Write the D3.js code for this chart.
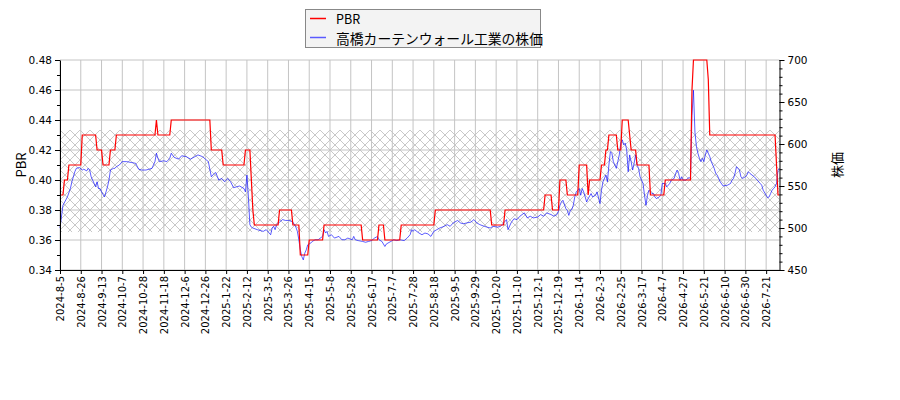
<!DOCTYPE html>
<html><head><meta charset="utf-8">
<script src="https://cdn.jsdelivr.net/npm/d3@7"></script>
<style>
body{margin:0;background:#fff;}
svg text{font-family:"DejaVu Sans",sans-serif;}
.jp{font-family:"Noto Sans CJK JP","DejaVu Sans",sans-serif;}
</style></head><body>
<svg id="c" width="900" height="400"></svg>
<script>
// ---- data ----
const tickLabels = ["2024-8-5","2024-8-26","2024-9-13","2024-10-7","2024-10-28","2024-11-18","2024-12-6","2024-12-26","2025-1-22","2025-2-12","2025-3-5","2025-3-26","2025-4-15","2025-5-8","2025-5-28","2025-6-17","2025-7-7","2025-7-28","2025-8-18","2025-9-5","2025-9-29","2025-10-20","2025-11-10","2025-12-1","2025-12-19","2026-1-14","2026-2-3","2026-2-25","2026-3-17","2026-4-7","2026-4-27","2026-5-21","2026-6-10","2026-6-30","2026-7-21"];
const tickEvery = 14; // trading days between labels
const nDays = 486;

// PBR: value holds from each start day until the next start day
const pbrRunStart = [0,3,6,15,25,29,34,38,65,66,75,102,110,125,129,130,131,148,157,162,168,178,204,215,219,230,253,291,300,327,332,337,342,350,356,357,365,368,370,376,379,384,385,389,398,408,426,427,437,438,483,484];
const pbrRunValue = [0.39,0.40,0.41,0.43,0.42,0.41,0.42,0.43,0.44,0.43,0.44,0.42,0.41,0.42,0.40,0.38,0.37,0.38,0.37,0.35,0.36,0.37,0.36,0.37,0.36,0.37,0.38,0.37,0.38,0.39,0.38,0.40,0.39,0.41,0.39,0.40,0.41,0.42,0.43,0.42,0.44,0.43,0.42,0.41,0.39,0.40,0.46,0.48,0.467,0.43,0.41,0.39];

// share price (trading-day index, yen)
const priceDay = [0,2,5,7,8,10,11,13,15,16,18,19,20,21,22,24,25,26,27,28,30,31,32,33,34,36,37,38,40,42,45,48,51,53,55,58,62,64,65,66,67,70,72,74,75,77,80,82,85,88,91,93,96,98,100,102,104,105,107,109,111,113,115,117,119,121,124,125,126,127,128,129,130,133,135,137,139,142,143,144,145,146,148,150,152,154,156,157,159,160,161,162,163,164,165,166,167,169,170,172,174,177,178,179,180,181,183,185,188,190,192,194,197,198,199,201,204,206,208,210,212,214,215,217,219,220,223,225,227,229,232,234,236,237,238,239,242,244,246,248,250,252,254,256,259,261,263,265,268,270,272,274,277,279,281,283,286,288,290,292,295,297,299,301,302,304,306,308,310,313,315,317,319,322,324,326,328,331,333,335,336,337,338,339,341,342,343,344,345,346,347,348,350,351,352,353,354,355,356,358,359,361,362,364,365,366,368,369,370,371,372,373,374,375,376,377,378,379,380,381,382,383,384,385,386,387,388,389,390,391,392,393,394,395,396,397,398,399,400,401,402,404,405,406,408,409,410,411,412,414,415,416,417,418,419,420,422,423,424,425,426,427,428,429,430,431,432,433,434,435,436,437,438,439,441,442,443,444,445,447,450,452,453,454,455,456,458,459,460,462,463,464,465,468,470,472,473,474,476,477,478,479,480,481,482,483,484,485];
const priceValue = [500,527,537,547,555,567,571,572,569,570,568,571,569,561,557,549,555,547,547,543,537,543,549,557,569,571,571,573,575,579,579,578,577,570,569,569,571,579,589,583,579,580,579,583,589,584,582,586,585,582,585,587,585,582,579,561,565,566,557,559,555,559,555,548,549,550,547,543,563,537,504,501,500,498,497,496,498,492,500,502,498,504,507,510,509,509,508,507,501,496,486,474,466,462,470,474,480,482,484,486,486,490,498,494,496,490,492,488,490,486,486,488,486,490,486,485,484,483,484,485,488,490,486,484,478,481,484,486,485,486,485,488,492,498,496,498,494,492,494,493,490,496,498,500,502,504,502,506,509,506,505,506,507,510,506,504,502,501,500,502,501,502,506,510,498,506,511,510,514,518,512,514,512,513,516,514,518,516,514,516,520,527,531,533,523,521,515,521,522,527,537,543,547,539,547,543,537,531,535,541,537,539,543,529,545,555,563,555,575,591,589,579,575,571,579,587,601,605,599,601,593,567,587,579,569,577,587,575,571,561,557,553,539,527,539,545,543,541,541,537,535,537,539,553,553,549,551,553,557,559,565,569,565,557,561,557,557,559,560,559,634,664,614,597,589,583,579,583,579,587,593,589,585,579,571,565,563,559,555,550,551,553,557,559,565,573,569,561,559,561,563,567,565,561,557,553,551,545,539,536,537,541,545,547,549,553,569,571];

const leftTicks = [0.34,0.36,0.38,0.40,0.42,0.44,0.46,0.48];
const leftMinor = [0.34,0.35,0.36,0.37,0.38,0.39,0.40,0.41,0.42,0.43,0.44,0.45,0.46,0.47,0.48];
const rightTicks = [450,500,550,600,650,700];
const rightMinor = d3.range(450,701,10);
const bandRange = [0.3653,0.4333];
const seriesNames = ["PBR","高橋カーテンウォール工業の株価"];
const axisNames = ["PBR","株価"];

// ---- chart ----
const svg = d3.select("#c");
const L=60, R=779.5, T=60, B=270;
const x = d3.scaleLinear().domain([0,nDays-1]).range([L,R]);
const yL = d3.scaleLinear().domain([0.34,0.48]).range([B,T]);
const yR = d3.scaleLinear().domain([450,700]).range([B,T]);
const tickDays = tickLabels.map((_,k)=>k*tickEvery);

// hatch pattern
const defs = svg.append("defs");
const pat = defs.append("pattern").attr("id","hatch").attr("patternUnits","userSpaceOnUse")
  .attr("width",10).attr("height",10);
pat.append("path").attr("d","M0,0L10,10M10,0L0,10M-1,9L1,11M9,-1L11,1")
  .attr("stroke","#a2a2a2").attr("stroke-width",0.6).attr("fill","none");

svg.append("rect").attr("x",L).attr("width",R-L)
  .attr("y",yL(bandRange[1])).attr("height",yL(bandRange[0])-yL(bandRange[1]))
  .attr("fill","url(#hatch)");

// grid
const grid = svg.append("g").attr("stroke","#c4c4c4").attr("stroke-width",1);
grid.selectAll(".v").data(tickDays).join("line")
  .attr("x1",d=>x(d)).attr("x2",d=>x(d)).attr("y1",T).attr("y2",B);
grid.selectAll(".h").data(leftTicks).join("line")
  .attr("x1",L).attr("x2",R).attr("y1",d=>yL(d)).attr("y2",d=>yL(d));

// PBR daily values from runs
const pbrDaily = [];
for (let r=0;r<pbrRunStart.length;r++){
  const end = r+1<pbrRunStart.length ? pbrRunStart[r+1] : nDays;
  for (let d=pbrRunStart[r]; d<end; d++) pbrDaily.push([d,pbrRunValue[r]]);
}
svg.append("path").datum(priceDay.map((d,i)=>[d,priceValue[i]]))
  .attr("fill","none").attr("stroke","#0000ff").attr("stroke-opacity",0.8).attr("stroke-width",0.8)
  .attr("d",d3.line().x(d=>x(d[0])).y(d=>yR(d[1])));
svg.append("path").datum(pbrDaily)
  .attr("fill","none").attr("stroke","#ff0000").attr("stroke-width",1.2)
  .attr("d",d3.line().x(d=>x(d[0])).y(d=>yL(d[1])));

// axes
function style(g){ g.selectAll("path,line").attr("stroke","#000"); g.selectAll("text").attr("fill","#000").attr("font-family","DejaVu Sans").attr("font-size",10.5); }
svg.append("g").attr("transform",`translate(${L},0)`)
  .call(d3.axisLeft(yL).tickValues(leftMinor).tickSize(3).tickFormat("").tickSizeOuter(0)).call(style)
  .select(".domain").remove();
svg.append("g").attr("transform",`translate(${L},0)`)
  .call(d3.axisLeft(yL).tickValues(leftTicks).tickSize(5).tickPadding(3).tickFormat(d3.format(".2f")).tickSizeOuter(0)).call(style);
svg.append("g").attr("transform",`translate(${R},0)`)
  .call(d3.axisRight(yR).tickValues(rightMinor).tickSize(3).tickFormat("").tickSizeOuter(0)).call(style)
  .select(".domain").remove();
svg.append("g").attr("transform",`translate(${R},0)`)
  .call(d3.axisRight(yR).tickValues(rightTicks).tickSize(5).tickPadding(3).tickSizeOuter(0)).call(style);
const xa = svg.append("g").attr("transform",`translate(0,${B})`)
  .call(d3.axisBottom(x).tickValues(tickDays).tickSize(4).tickSizeOuter(0).tickFormat((d,i)=>tickLabels[i])).call(style);
xa.selectAll("text").attr("font-size",10).attr("transform","rotate(-90)")
  .attr("x",-6).attr("y",0).attr("dy","0.35em").attr("text-anchor","end");

// axis titles
svg.append("text").attr("class","jp").attr("transform",`translate(20,${(T+B)/2}) rotate(-90)`)
  .attr("text-anchor","middle").attr("dominant-baseline","central").attr("font-size",13).text(axisNames[0]);
svg.append("text").attr("class","jp").attr("transform",`translate(836,${(T+B)/2}) rotate(-90)`)
  .attr("text-anchor","middle").attr("dominant-baseline","central").attr("font-size",13).text(axisNames[1]);

// legend
const lg = svg.append("g");
lg.append("rect").attr("x",305.5).attr("y",9.5).attr("width",235).attr("height",38)
  .attr("fill","#f3f3f3").attr("stroke","#888").attr("stroke-width",1);
const colors = ["#ff0000","#5a5aff"];
seriesNames.forEach((n,i)=>{
  const yy = 18.5 + i*19;
  lg.append("line").attr("x1",310).attr("x2",326).attr("y1",yy).attr("y2",yy)
    .attr("stroke",colors[i]).attr("stroke-width",1.5);
  lg.append("text").attr("class","jp").attr("x",336).attr("y",yy).attr("dominant-baseline","central")
    .attr("font-size",i===0?12.5:13.8).attr("fill","#000").text(n);
});
</script>
</body></html>
